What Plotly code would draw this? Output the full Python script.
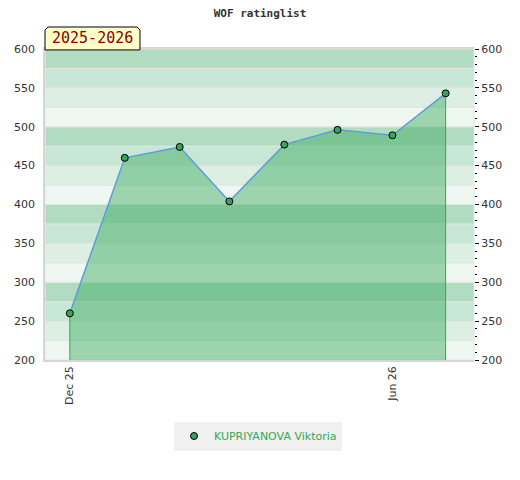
import plotly.graph_objs as go

# rating history, one point per month
dates   = ['2025-12-01', '2026-01-01', '2026-02-01', '2026-03-01',
           '2026-04-01', '2026-05-01', '2026-06-01', '2026-07-01']
ratings = [260, 460, 474, 404, 477, 496, 489, 543]
player  = 'KUPRIYANOVA Viktoria'
season  = '2025-2026'

tick_dates  = ['2025-12-01', '2026-06-01']
tick_labels = ['Dec 25', 'Jun 26']

y_min, y_max = 200, 600
band_colors = ['#b2dcc2', '#c8e6d5', '#ddeee3', '#eef7f1']

shapes = []
# horizontal bands, 25 points each, pattern repeats every 100
lo = y_min
i = 0
while lo < y_max:
    hi = lo + 25
    shapes.append(dict(type='rect', xref='paper', yref='y', x0=0, x1=1, y0=lo, y1=hi,
                       fillcolor=band_colors[3 - (i % 4)], line=dict(color='#e2e6e4', width=1),
                       layer='below'))
    lo = hi
    i += 1

# season box above the plot
shapes.append(dict(type='path', xref='paper', yref='paper',
                   path='M 0,0.997 L 0,1.061 L 0.007,1.0707 L 0.2144,1.0707 L 0.2214,1.061 L 0.2214,0.997 Z',
                   fillcolor='#ffffc8', line=dict(color='#000000', width=1), layer='above'))

data = []
# filled area under the line
data.append(go.Scatter(x=dates, y=ratings, mode='lines', fill='tozeroy',
                       fillcolor='rgba(54,169,92,0.45)', line=dict(width=0),
                       showlegend=False, hoverinfo='skip'))
# vertical edges of the area
data.append(go.Scatter(x=[dates[0], dates[0], None, dates[-1], dates[-1]],
                       y=[y_min, ratings[0], None, y_min, ratings[-1]],
                       mode='lines', line=dict(color='#34a853', width=1),
                       showlegend=False, hoverinfo='skip'))
# the rating line
data.append(go.Scatter(x=dates, y=ratings, mode='lines+markers',
                       line=dict(color='#5a9fd8', width=1.5),
                       marker=dict(color='#36a25c', size=7, line=dict(color='#000000', width=1)),
                       showlegend=False))
# legend entry (marker only)
data.append(go.Scatter(x=[None], y=[None], mode='markers', name=player,
                       marker=dict(color='#36a25c', size=7, line=dict(color='#000000', width=1))))
# right axis dummy to show ticks
data.append(go.Scatter(x=[dates[0]], y=[ratings[0]], yaxis='y2', mode='markers',
                       marker=dict(opacity=0), showlegend=False, hoverinfo='skip'))

font_main = dict(family='DejaVu Sans', size=11, color='#333333')

# page body has an 8px margin, so the figure is a bit smaller than the window
layout = go.Layout(
    width=512, height=472,
    margin=dict(l=37, r=46, t=41, b=120, autoexpand=False),
    paper_bgcolor='#ffffff', plot_bgcolor='rgba(0,0,0,0)',
    font=font_main,
    title=dict(text='<b>WOF ratinglist</b>', x=(260 - 8 - 37) / 429, xref='paper', xanchor='center',
               y=1 - 5 / 472, yanchor='middle', automargin=False,
               font=dict(family='DejaVu Sans Mono', size=11, color='#333333')),
    xaxis=dict(type='date', range=['2025-11-17', '2026-07-17'], automargin=False,
               tickmode='array', tickvals=tick_dates, ticktext=tick_labels, tickangle=-90,
               showgrid=False, zeroline=False, showline=True, linecolor='#d6d6d6', linewidth=1.5,
               mirror=True, ticks='', tickfont=font_main),
    yaxis=dict(range=[y_min, y_max], dtick=50, showgrid=False, zeroline=False, automargin=False,
               showline=True, linecolor='#d6d6d6', linewidth=1.5, ticks='', ticklabelstandoff=6,
               tickfont=font_main),
    yaxis2=dict(range=[y_min, y_max], dtick=50, overlaying='y', side='right', showgrid=False,
                zeroline=False, showline=False, ticks='outside', ticklen=4, tickcolor='#000000',
                automargin=False,
                minor=dict(dtick=10, ticks='outside', ticklen=2, tickcolor='#000000'),
                tickfont=font_main),
    legend=dict(orientation='h', x=(258 - 8 - 37) / 429, xanchor='center',
                y=(352 - 428) / 311, yanchor='middle',
                bgcolor='#f0f0f0', font=dict(family='DejaVu Sans', size=11, color='#34a853')),
    shapes=shapes,
    annotations=[dict(text=season, xref='paper', yref='paper', x=0.1107, y=1.035,
                      xanchor='center', yanchor='middle', showarrow=False,
                      font=dict(family='DejaVu Sans Mono', size=15, color='#8b0000'))],
)

fig = go.Figure(data=data, layout=layout)
fig.write_html('out.html')
